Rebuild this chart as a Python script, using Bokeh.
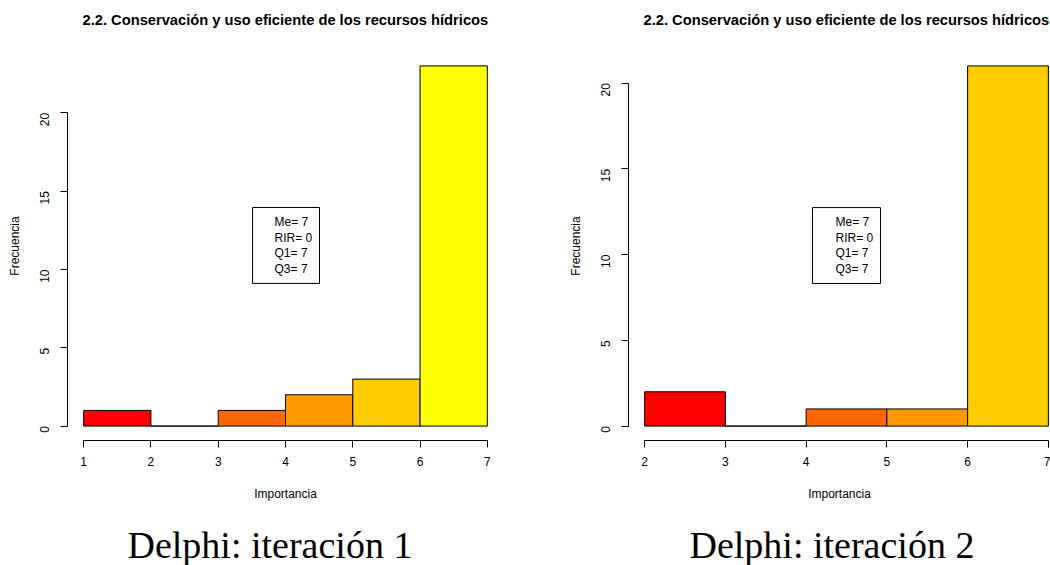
import math
from bokeh.plotting import figure
from bokeh.models import Range1d, BoxAnnotation, Label, Title, FixedTicker
from bokeh.layouts import row
from bokeh.embed import file_html
from bokeh.resources import INLINE

title_text = "2.2. Conservación y uso eficiente de los recursos hídricos"
x_label = "Importancia"
y_label = "Frecuencia"

# Iteración 1
it1_edges = [1, 2, 3, 4, 5, 6, 7]
it1_counts = [1, 0, 1, 2, 3, 23]
it1_colors = ["#FF0000", "#FF3300", "#FF6600", "#FF9900", "#FFCC00", "#FFFF00"]
it1_xticks = [1, 2, 3, 4, 5, 6, 7]
it1_yticks = [0, 5, 10, 15, 20]
it1_stats = ["Me= 7", "RIR= 0", "Q1= 7", "Q3= 7"]
it1_caption = "Delphi: iteración 1"

# Iteración 2
it2_edges = [2, 3, 4, 5, 6, 7]
it2_counts = [2, 0, 1, 1, 21]
it2_colors = ["#FF0000", "#FF3300", "#FF6600", "#FF9900", "#FFCC00"]
it2_xticks = [2, 3, 4, 5, 6, 7]
it2_yticks = [0, 5, 10, 15, 20]
it2_stats = ["Me= 7", "RIR= 0", "Q1= 7", "Q3= 7"]
it2_caption = "Delphi: iteración 2"

FONT = "Liberation Sans"
FRAME_TOP = 51
FRAME_H = 389


def spacer(px):
    return Title(text=" ", text_font_size="1px", standoff=px, text_color="white")


def panel(edges, counts, colors, xticks, yticks, stats, caption,
          width, frame_width, border_right, visible_frac,
          box, text_x, text_top_px, cap_offset):
    lo, hi = edges[0], edges[-1]
    ext = 0.04 * (hi - lo)
    x0 = lo - ext
    x1 = x0 + (hi - lo + 2 * ext) * visible_frac
    ymax = max(counts)
    y0, y1 = -0.04 * ymax, 1.04 * ymax
    p = figure(title=None, width=width, height=565,
               frame_width=frame_width, frame_height=FRAME_H,
               x_range=Range1d(x0, x1), y_range=Range1d(y0, y1),
               output_backend="svg", toolbar_location=None,
               min_border_left=67, min_border_right=border_right,
               min_border_top=FRAME_TOP, min_border_bottom=565 - FRAME_TOP - FRAME_H)
    p.background_fill_color = "white"
    p.border_fill_color = "white"
    p.outline_line_color = None
    p.xgrid.visible = False
    p.ygrid.visible = False

    p.quad(left=edges[:-1], right=edges[1:], bottom=0, top=counts,
           fill_color=colors, line_color="black", line_width=1)

    for ax, ticks in ((p.xaxis[0], xticks), (p.yaxis[0], yticks)):
        ax.ticker = FixedTicker(ticks=ticks)
        ax.bounds = (ticks[0], ticks[-1])
        ax.axis_line_color = "black"
        ax.major_tick_line_color = "black"
        ax.major_tick_out = 7
        ax.major_tick_in = 0
        ax.minor_tick_out = 0
        ax.minor_tick_in = 0
        ax.major_label_text_font = FONT
        ax.major_label_text_font_size = "12px"
        ax.major_label_text_color = "black"
        ax.axis_label_text_font = FONT
        ax.axis_label_text_font_size = "12px"
        ax.axis_label_text_font_style = "normal"
        ax.axis_label_text_color = "black"
    p.xaxis.axis_label = x_label
    p.yaxis.axis_label = y_label
    p.xaxis.major_label_standoff = 9
    p.xaxis.axis_label_standoff = 18
    p.yaxis.major_label_orientation = math.pi / 2
    p.yaxis.major_label_standoff = 16
    p.yaxis.axis_label_standoff = 11

    # statistics box
    p.add_layout(BoxAnnotation(left=box[0], right=box[1], top=box[2], bottom=box[3],
                               fill_color=None, fill_alpha=0, line_color="black",
                               line_alpha=1.0, line_width=1))
    y_per_px = (y1 - y0) / FRAME_H
    ty = y1 - (text_top_px - FRAME_TOP) * y_per_px
    p.add_layout(Label(x=text_x, y=ty, text="\n".join(stats), text_baseline="top",
                       text_align="left", text_font=FONT, text_font_size="12px",
                       text_color="black", text_line_height=1.11))

    # title: spacer next to the frame, then the title text
    p.add_layout(spacer(21), "above")
    p.add_layout(Title(text=title_text, align="left", offset=15, standoff=0,
                       vertical_align="bottom",
                       text_font=FONT, text_font_size="14.7px", text_font_style="bold",
                       text_color="black"), "above")
    # caption: spacer under the x axis, then the caption text
    p.add_layout(spacer(17), "below")
    p.add_layout(Title(text=caption, align="left", offset=cap_offset, standoff=0,
                       vertical_align="top",
                       text_font="Liberation Serif", text_font_size="38px",
                       text_font_style="normal", text_color="black"), "below")
    return p


p1 = panel(it1_edges, it1_counts, it1_colors, it1_xticks, it1_yticks, it1_stats,
           it1_caption, width=561, frame_width=436, border_right=58, visible_frac=1.0,
           box=(3.51, 4.505, 13.96, 9.11), text_x=3.837, text_top_px=214.5,
           cap_offset=60)
p2 = panel(it2_edges, it2_counts, it2_colors, it2_xticks, it2_yticks, it2_stats,
           it2_caption, width=489, frame_width=422, border_right=0,
           visible_frac=422 / 436,
           box=(4.079, 4.921, 12.74, 8.31), text_x=4.364, text_top_px=214.5,
           cap_offset=61)

layout = row(p1, p2)
open("out.html", "w").write(file_html(layout, INLINE))
